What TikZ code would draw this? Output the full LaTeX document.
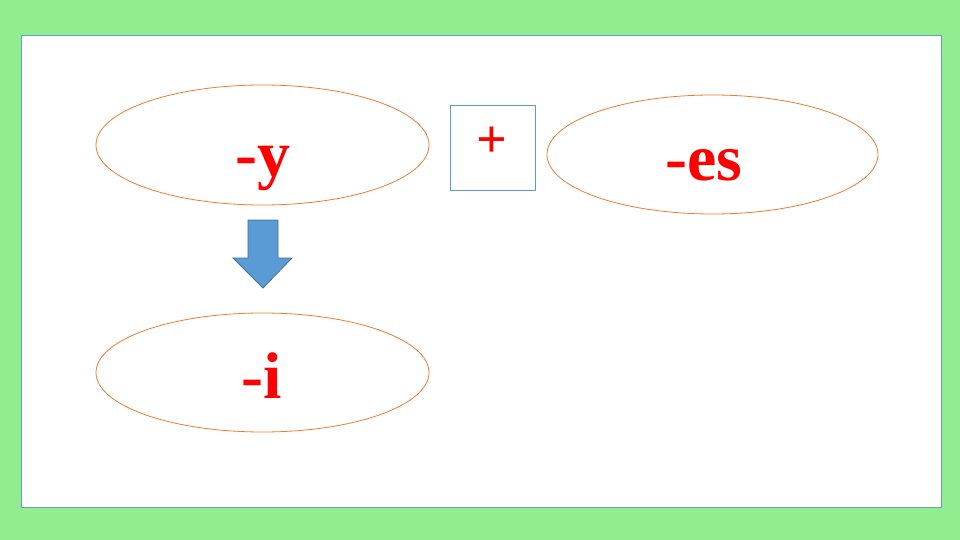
\documentclass[tikz,border=0pt]{standalone}
\usepackage{fontspec}
\setmainfont{Liberation Serif}
\definecolor{bggreen}{HTML}{90EE90}
\definecolor{panelline}{HTML}{6A9FB5}
\definecolor{ellline}{HTML}{ED7D31}
\definecolor{boxline}{HTML}{5B9BD5}
\definecolor{arrowfill}{HTML}{5B9BD5}
\definecolor{arrowline}{HTML}{41719C}
\definecolor{txtred}{HTML}{FF0000}
\begin{document}
\begin{tikzpicture}[x=1pt,y=-1pt,
  oval/.style={draw=ellline,line width=0.8pt,fill=white},
  bigtxt/.style={text=txtred,font=\fontsize{66}{66}\selectfont\bfseries,anchor=base,inner sep=0pt},
  plusbox/.style={draw=boxline,line width=0.8pt,fill=white}]
\fill[bggreen] (0,0) rectangle (960,540);
\useasboundingbox (0,0) rectangle (960,540);
\draw[panelline,fill=white,line width=1pt] (21,36) rectangle (941,507);
% ellipses
\draw[oval] (262.5,145) ellipse [x radius=166.5,y radius=60];
\draw[oval] (712.5,154.5) ellipse [x radius=165.5,y radius=59.5];
\draw[oval] (262.5,372.5) ellipse [x radius=166.5,y radius=59.5];
\node[bigtxt] (ty) at (263,176) {-y};
\node[bigtxt] (tes) at (704,181) {-es};
\node[bigtxt] (ti) at (262,398) {-i};
% plus box
\draw[plusbox] (450,105) rectangle (535.5,190);
\node[text=txtred,font=\fontsize{54}{54}\selectfont\bfseries,inner sep=0pt] (plus) at (492,142) {+};
% down arrow
\draw[fill=arrowfill,draw=arrowline,line width=0.8pt,line join=miter]
  (248,220) -- (278,220) -- (278,258) -- (292,258) -- (263,288) -- (233,258) -- (248,258) -- cycle;
\end{tikzpicture}
\end{document}
